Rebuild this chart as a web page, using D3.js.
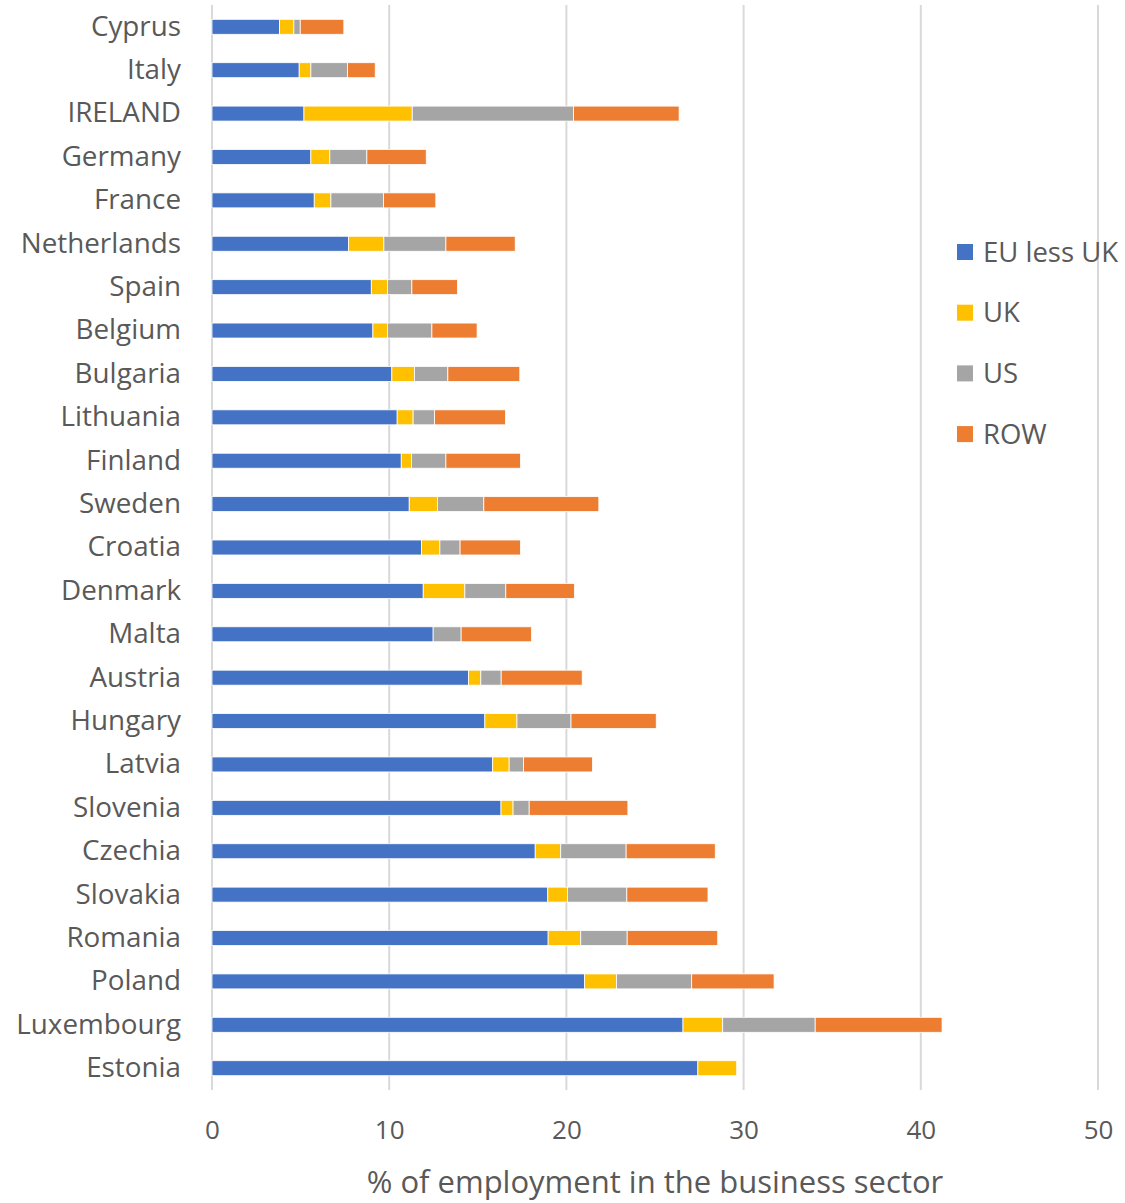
<!DOCTYPE html>
<html>
<head>
<meta charset="utf-8">
<script src="https://cdn.jsdelivr.net/npm/d3@7"></script>
<style>
  html, body { margin: 0; padding: 0; background: #fff; }
  svg { display: block; }
</style>
</head>
<body>
<svg id="chart" width="1125" height="1203"></svg>
<script>
// Countries, top to bottom
const countries = ["Cyprus", "Italy", "IRELAND", "Germany", "France", "Netherlands", "Spain",
  "Belgium", "Bulgaria", "Lithuania", "Finland", "Sweden", "Croatia", "Denmark", "Malta",
  "Austria", "Hungary", "Latvia", "Slovenia", "Czechia", "Slovakia", "Romania", "Poland",
  "Luxembourg", "Estonia"];

// Share of business-sector employment by origin of the controlling enterprise (%)
const euLessUK = [3.81, 4.92, 5.19, 5.58, 5.77, 7.71, 8.99, 9.08, 10.15, 10.45, 10.68, 11.13,
  11.82, 11.92, 12.48, 14.47, 15.40, 15.84, 16.31, 18.24, 18.95, 18.97, 21.03, 26.58, 27.42];
const uk = [0.81, 0.66, 6.11, 1.07, 0.94, 1.99, 0.91, 0.82, 1.28, 0.90, 0.58, 1.59,
  1.04, 2.35, 0.00, 0.70, 1.81, 0.93, 0.68, 1.44, 1.11, 1.84, 1.80, 2.24, 2.19];
const us = [0.36, 2.07, 9.10, 2.09, 2.97, 3.50, 1.38, 2.51, 1.88, 1.21, 1.94, 2.62,
  1.14, 2.31, 1.58, 1.15, 3.05, 0.81, 0.91, 3.69, 3.35, 2.62, 4.24, 5.22, 0.00];
const row = [2.46, 1.56, 5.96, 3.35, 2.95, 3.91, 2.57, 2.55, 4.06, 4.00, 4.21, 6.49,
  3.41, 3.87, 3.97, 4.57, 4.81, 3.89, 5.57, 5.03, 4.58, 5.11, 4.65, 7.16, 0.00];

const seriesNames = ["EU less UK", "UK", "US", "ROW"];
const seriesColors = ["#4472C4", "#FFC000", "#A5A5A5", "#ED7D31"];
const xTicks = [0, 10, 20, 30, 40, 50];
const xTitle = "% of employment in the business sector";

const table = countries.map((c, i) => ({
  country: c, "EU less UK": euLessUK[i], "UK": uk[i], "US": us[i], "ROW": row[i]
}));

const svg = d3.select("#chart");
const FONT = "'Open Sans', 'Noto Sans', sans-serif";
const TEXT = "#595959";

const plot = { left: 212, right: 1098, top: 5, bottom: 1090 };

const x = d3.scaleLinear().domain([0, 50]).range([plot.left, plot.right]);
const y = d3.scaleBand().domain(countries).range([plot.top, plot.bottom]).paddingInner(0.655).paddingOuter(0.33);
const color = d3.scaleOrdinal().domain(seriesNames).range(seriesColors);

// Vertical gridlines
svg.append("g")
  .selectAll("line")
  .data(xTicks)
  .join("line")
  .attr("x1", d => x(d)).attr("x2", d => x(d))
  .attr("y1", plot.top).attr("y2", plot.bottom)
  .attr("stroke", "#D9D9D9")
  .attr("stroke-width", 2);

// Stacked bars
const stacked = d3.stack().keys(seriesNames)(table);
svg.append("g")
  .selectAll("g")
  .data(stacked)
  .join("g")
  .attr("fill", d => color(d.key))
  .selectAll("rect")
  .data(d => d)
  .join("rect")
  .attr("x", d => x(d[0]))
  .attr("y", d => y(d.data.country))
  .attr("width", d => Math.max(0, x(d[1]) - x(d[0])))
  .attr("height", y.bandwidth())
  .attr("stroke", "#fff")
  .attr("stroke-width", 0.8);

// Category labels
const yAxis = svg.append("g")
  .attr("transform", `translate(${plot.left},0)`)
  .call(d3.axisLeft(y).tickSize(0).tickPadding(31));
yAxis.select(".domain").remove();
yAxis.selectAll("text")
  .attr("font-family", FONT)
  .attr("font-size", 27.8)
  .attr("fill", TEXT);

// Value axis labels
const xAxis = svg.append("g")
  .attr("transform", `translate(0,${plot.bottom})`)
  .call(d3.axisBottom(x).tickValues(xTicks).tickFormat(d3.format("d")).tickSize(0).tickPadding(31));
xAxis.select(".domain").remove();
xAxis.selectAll("text")
  .attr("font-family", FONT)
  .attr("font-size", 26)
  .attr("fill", TEXT);

// Axis title
svg.append("text")
  .attr("x", (plot.left + plot.right) / 2)
  .attr("y", 1193)
  .attr("text-anchor", "middle")
  .attr("font-family", FONT)
  .attr("font-size", 31)
  .attr("fill", TEXT)
  .text(xTitle);

// Legend
const legend = svg.append("g")
  .selectAll("g")
  .data(seriesNames)
  .join("g")
  .attr("transform", (d, i) => `translate(957,${252 + i * 60.7})`);
legend.append("rect")
  .attr("x", 0).attr("y", -8)
  .attr("width", 16).attr("height", 16)
  .attr("fill", d => color(d));
legend.append("text")
  .attr("x", 26).attr("y", 0)
  .attr("dy", "0.35em")
  .attr("font-family", FONT)
  .attr("font-size", 27.5)
  .attr("fill", TEXT)
  .text(d => d);
</script>
</body>
</html>
